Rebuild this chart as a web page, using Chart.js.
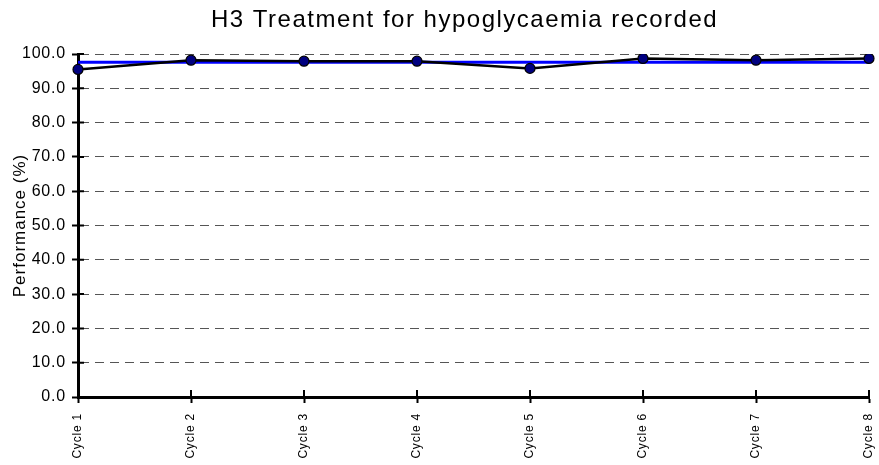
<!DOCTYPE html>
<html>
<head>
<meta charset="utf-8">
<script src="https://cdn.jsdelivr.net/npm/chart.js@4.4.1/dist/chart.umd.min.js"></script>
<style>
    html, body { margin: 0; padding: 0; background: #fff; }
    #wrap { width: 879px; height: 465px; }
</style>
</head>
<body>
<div id="wrap"><canvas id="h3Chart"></canvas></div>
<script>
// cycles on the x axis
const cycles = ['Cycle 1', 'Cycle 2', 'Cycle 3', 'Cycle 4', 'Cycle 5', 'Cycle 6', 'Cycle 7', 'Cycle 8'];
// performance (%) per cycle
const performance = [95.5, 98.2, 97.9, 97.9, 95.8, 98.7, 98.2, 98.7];
// flat blue reference line
const referenceLine = [97.6, 97.6, 97.6, 97.6, 97.6, 97.6, 97.6, 97.6];
// y axis range and step
const yMin = 0;
const yMax = 100;
const yStep = 10;

const chartTitle = 'H3 Treatment for hypoglycaemia recorded';
const yAxisTitle = 'Performance (%)';

const fontFamily = '"Liberation Sans", Arial, Helvetica, sans-serif';

// slightly wider letter spacing for the axis labels
const spacing = {
    id: 'spacing',
    beforeDraw(chart) { chart.ctx.letterSpacing = '0.8px'; },
    afterDraw(chart) { chart.ctx.letterSpacing = '0px'; }
};

// tick marks crossing the axis lines (chart.js only draws the outer half)
const innerTicks = {
    id: 'innerTicks',
    afterDatasetsDraw(chart) {
        const ctx = chart.ctx;
        const x = chart.scales.x, y = chart.scales.y;
        const area = chart.chartArea;
        ctx.save();
        ctx.strokeStyle = '#000';
        ctx.lineWidth = 2;
        ctx.beginPath();
        y.ticks.forEach((t, i) => {
            const py = y.getPixelForTick(i);
            ctx.moveTo(area.left, py);
            ctx.lineTo(area.left + 6, py);
        });
        x.ticks.forEach((t, i) => {
            const px = x.getPixelForTick(i);
            ctx.moveTo(px, area.bottom);
            ctx.lineTo(px, area.bottom - 7);
        });
        ctx.stroke();
        ctx.restore();
    }
};

// chart title and y axis title, drawn by hand so they sit where wanted
const titles = {
    id: 'titles',
    afterDraw(chart) {
        const ctx = chart.ctx;
        const area = chart.chartArea;
        ctx.save();
        ctx.fillStyle = '#000';
        ctx.textAlign = 'center';
        ctx.textBaseline = 'middle';

        ctx.letterSpacing = '1.5px';
        ctx.font = '24px ' + fontFamily;
        ctx.fillText(chartTitle, (area.left + area.right) / 2 - 9, 20);

        ctx.letterSpacing = '1px';
        ctx.font = '17px ' + fontFamily;
        ctx.translate(20, (area.top + area.bottom) / 2);
        ctx.rotate(-Math.PI / 2);
        ctx.fillText(yAxisTitle, 0, 0);
        ctx.restore();
    }
};

const ctx = document.getElementById('h3Chart').getContext('2d');

const h3Chart = new Chart(ctx, {
    type: 'line',
    data: {
        labels: cycles,
        datasets: [{
            label: 'Performance',
            data: performance,
            borderColor: '#000',
            borderWidth: 2.5,
            pointRadius: 5,
            pointBorderWidth: 1.2,
            pointBackgroundColor: '#000080',
            pointBorderColor: '#000',
            tension: 0
        }, {
            label: 'Reference',
            data: referenceLine,
            borderColor: '#0000ff',
            borderWidth: 3,
            pointRadius: 0,
            tension: 0
        }]
    },
    options: {
        responsive: true,
        maintainAspectRatio: false,
        animation: false,
        layout: {
            padding: { left: 0, right: 10, top: 54, bottom: 0 }
        },
        plugins: {
            legend: { display: false },
            tooltip: { enabled: false },
            title: { display: false }
        },
        scales: {
            x: {
                offset: false,
                afterFit(scale) {
                    scale.height = 68;
                    scale.paddingRight = 0;
                    scale.paddingLeft = 0;
                },
                grid: {
                    drawOnChartArea: false,
                    drawTicks: true,
                    tickLength: 6,
                    tickColor: '#000',
                    tickWidth: 2
                },
                border: { display: true, color: '#000', width: 3 },
                ticks: {
                    color: '#000',
                    autoSkip: false,
                    minRotation: 90,
                    maxRotation: 90,
                    padding: 10,
                    font: { family: fontFamily, size: 12 }
                }
            },
            y: {
                min: yMin,
                max: yMax,
                afterFit(scale) {
                    scale.width = 78;
                    scale.paddingTop = 0;
                },
                grid: {
                    color: c => (c.tick && c.tick.value === yMin) ? 'rgba(0,0,0,0)' : '#555',
                    lineWidth: 1,
                    drawTicks: true,
                    tickLength: 6,
                    tickColor: '#000',
                    tickWidth: 2
                },
                border: { display: true, color: '#000', width: 3, dash: [9, 6] },
                ticks: {
                    stepSize: yStep,
                    color: '#000',
                    padding: 6,
                    font: { family: fontFamily, size: 16 },
                    callback: v => v.toFixed(1)
                }
            }
        }
    },
    plugins: [spacing, innerTicks, titles]
});
</script>
</body>
</html>
